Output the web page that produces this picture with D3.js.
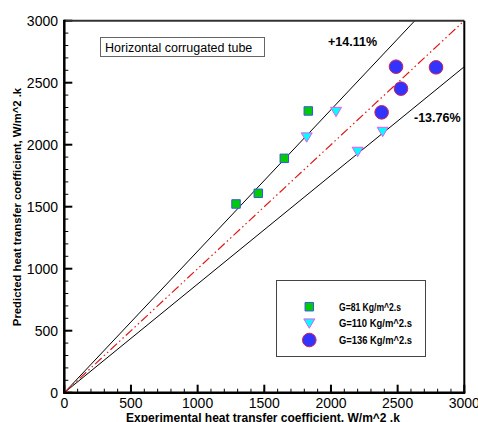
<!DOCTYPE html>
<html><head><meta charset="utf-8">
<script src="https://cdn.jsdelivr.net/npm/d3@7"></script>
<style>body{margin:0;background:#fff}svg{display:block;font-family:"Liberation Sans",Arial,sans-serif}</style>
</head><body><svg id="c" width="478" height="422"></svg>
<script>
const g81 = [[1288,1522],[1455,1608],[1650,1890],[1830,2272]];
const g110 = [[1818,2060],[2038,2266],[2200,1944],[2388,2105]];
const g136 = [[2380,2261],[2488,2629],[2525,2452],[2788,2624]];
const majorTicks = [0,500,1000,1500,2000,2500,3000];
const minorTicks = d3.range(0,3001,100);
const upperFactor = 1.1411;
const lowerFactor = 1/1.1411;
const legendLabels = ["G=81 Kg/m^2.s","G=110 Kg/m^2.s","G=136 Kg/m^2.s"];

const svg = d3.select("#c");
const x = d3.scaleLinear().domain([0,3000]).range([64.3,464.3]);
const y = d3.scaleLinear().domain([0,3000]).range([392.7,20.7]);

svg.append("clipPath").attr("id","pc").append("rect")
  .attr("x",x(0)).attr("y",y(3000)).attr("width",x(3000)-x(0)).attr("height",y(0)-y(3000));

// ticks
const tickG = svg.append("g");
minorTicks.forEach(t=>{
  tickG.append("line").attr("x1",x(t)).attr("x2",x(t)).attr("y1",y(0)).attr("y2",y(0)-4).attr("stroke","#000").attr("stroke-width",1);
  tickG.append("line").attr("y1",y(t)).attr("y2",y(t)).attr("x1",x(0)).attr("x2",x(0)+4).attr("stroke","#000").attr("stroke-width",1);
});
majorTicks.forEach(t=>{
  tickG.append("line").attr("x1",x(t)).attr("x2",x(t)).attr("y1",y(0)).attr("y2",y(0)-8).attr("stroke","#000").attr("stroke-width",2);
  tickG.append("line").attr("y1",y(t)).attr("y2",y(t)).attr("x1",x(0)).attr("x2",x(0)+8).attr("stroke","#000").attr("stroke-width",2);
  svg.append("text").attr("x",x(t)).attr("y",408).attr("text-anchor","middle").attr("font-size",14).text(t);
  svg.append("text").attr("x",58).attr("y",y(t)+5).attr("text-anchor","end").attr("font-size",14).text(t);
});

// lines
const lg = svg.append("g").attr("clip-path","url(#pc)");
const ln = d3.line().x(d=>x(d[0])).y(d=>y(d[1]));
lg.append("path").attr("d",ln([[0,0],[3000,3000*upperFactor]])).attr("stroke","#000").attr("fill","none").attr("stroke-width",1);
lg.append("path").attr("d",ln([[0,0],[3000,3000*lowerFactor]])).attr("stroke","#000").attr("fill","none").attr("stroke-width",1);
lg.append("path").attr("d",ln([[0,0],[3000,3000]])).attr("stroke","#e01818").attr("fill","none").attr("stroke-width",1.2).attr("stroke-dasharray","9,3,1.5,3,1.5,3");

// frame
svg.append("line").attr("x1",x(0)).attr("x2",x(3000)).attr("y1",y(3000)).attr("y2",y(3000)).attr("stroke","#333").attr("stroke-width",2);
svg.append("line").attr("x1",x(3000)).attr("x2",x(3000)).attr("y1",y(3000)).attr("y2",y(0)).attr("stroke","#000").attr("stroke-width",2);
svg.append("line").attr("x1",x(0)).attr("x2",x(0)).attr("y1",y(3000)-1).attr("y2",y(0)+1).attr("stroke","#000").attr("stroke-width",2.5);
svg.append("line").attr("x1",x(0)-1).attr("x2",x(3000)+1).attr("y1",y(0)).attr("y2",y(0)).attr("stroke","#000").attr("stroke-width",2.5);

// markers
const sq = d3.symbol().type(d3.symbolSquare).size(72);
const tri = (cx,cy,s)=>`M${cx-s},${cy-s*0.8}L${cx+s},${cy-s*0.8}L${cx},${cy+s*0.9}Z`;
function drawSq(g,cx,cy){g.append("path").attr("d",sq()).attr("transform",`translate(${cx},${cy})`).attr("fill","#00cc00").attr("stroke","#3355ee").attr("stroke-width",1);}
function drawTri(g,cx,cy){g.append("path").attr("d",tri(cx,cy,5.5)).attr("fill","#00ffff").attr("stroke","#ee55ee").attr("stroke-width",1);}
function drawCir(g,cx,cy){g.append("circle").attr("cx",cx).attr("cy",cy).attr("r",6.8).attr("fill","#3333ff").attr("stroke","#cc2255").attr("stroke-width",1);}
const mg = svg.append("g");
g81.forEach(d=>drawSq(mg,x(d[0]),y(d[1])));
g110.forEach(d=>drawTri(mg,x(d[0]),y(d[1])));
g136.forEach(d=>drawCir(mg,x(d[0]),y(d[1])));

// title box
svg.append("rect").attr("x",100.5).attr("y",37.5).attr("width",164).attr("height",19).attr("fill","#fff").attr("stroke","#666").attr("stroke-width",1);
svg.append("text").attr("x",105).attr("y",51.5).attr("font-size",12.5).text("Horizontal corrugated tube");

svg.append("text").attr("x",328).attr("y",46).attr("font-size",12.5).attr("font-weight","bold").text("+14.11%");
svg.append("text").attr("x",414).attr("y",122).attr("font-size",12.5).attr("font-weight","bold").text("-13.76%");

// legend
svg.append("rect").attr("x",276.5).attr("y",280.5).attr("width",149).attr("height",76).attr("fill","#fff").attr("stroke","#444").attr("stroke-width",1);
const ly=[306.7,323.3,340];
drawSq(svg,309.3,ly[0]); drawTri(svg,309.3,ly[1]); drawCir(svg,309.3,ly[2]);
legendLabels.forEach((t,i)=>svg.append("text").attr("x",339).attr("y",ly[i]+4).attr("font-size",10).attr("font-weight","bold").attr("textLength",t.length>13?73:62).attr("lengthAdjust","spacingAndGlyphs").text(t));

// axis labels
svg.append("text").attr("x",263).attr("y",422).attr("text-anchor","middle").attr("font-size",12).attr("font-weight","bold").text("Experimental heat transfer coefficient. W/m^2 .k");
svg.append("text").attr("transform","translate(21,207) rotate(-90)").attr("text-anchor","middle").attr("font-size",11.3).attr("font-weight","bold").text("Predicted heat transfer coefficient, W/m^2 .k");
</script></body></html>
